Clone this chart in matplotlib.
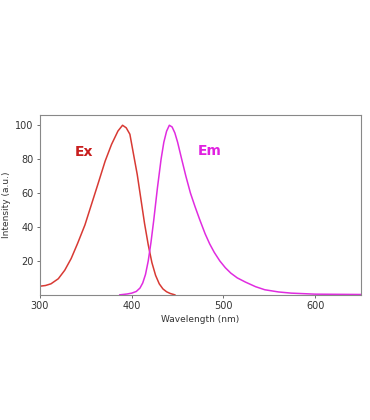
import matplotlib
matplotlib.use('Agg')
import matplotlib.pyplot as plt

# Excitation spectrum
ex_wl = [300, 306, 312, 320, 327, 334, 341, 349, 356, 363, 371, 378, 385, 390, 394, 398, 402, 406, 410, 414, 418, 422, 426, 430, 434, 438, 442, 447]
ex_int = [5.1, 5.5, 6.5, 9.5, 14.5, 21.4, 30.3, 41.2, 53.1, 65, 78.8, 88.7, 96.6, 100, 98.5, 94.7, 82.8, 71, 56.5, 42, 29.5, 19, 11.5, 6.5, 3.5, 1.8, 0.8, 0]

# Emission spectrum
em_wl = [387, 395, 400, 405, 409, 412, 415, 418, 421, 424, 428, 432, 435, 438, 441, 444, 447, 450, 454, 459, 464, 469, 474, 480, 485, 490, 496, 502, 508, 515, 524, 535, 545, 560, 574, 600, 625, 650]
em_int = [0, 0.5, 1, 2, 4, 7, 12, 20, 31, 44, 63, 80, 90, 96.5, 100, 99, 95.5, 90, 81, 70, 60, 52, 44.5, 36, 30, 25, 20, 16, 12.8, 10, 7.5, 4.8, 3, 1.7, 1, 0.4, 0.3, 0.2]

fig = plt.figure(figsize=(3.7, 4.2), dpi=100)
ax = fig.add_axes([0.108, 0.298, 0.868, 0.428])

ax.plot(ex_wl, ex_int, color='#d83a34', lw=1.1)
ax.plot(em_wl, em_int, color='#e02ce0', lw=1.1)

ax.text(348, 84.5, 'Ex', color='#c81e1e', fontsize=10, fontweight='bold', ha='center', va='center')
ax.text(485, 85, 'Em', color='#e020e0', fontsize=10, fontweight='bold', ha='center', va='center')

ax.set_xlim(300, 650)
ax.set_ylim(0, 106)
ax.set_xticks([300, 400, 500, 600])
ax.set_yticks([20, 40, 60, 80, 100])
ax.tick_params(labelsize=7, length=2.5, width=0.6, colors='#555555', labelcolor='#333333', pad=2)
for s in ax.spines.values():
    s.set_color('#888888')
    s.set_linewidth(0.8)

ax.set_xlabel('Wavelength (nm)', fontsize=6.5, color='#333333', labelpad=3)
ax.set_ylabel('Intensity (a.u.)', fontsize=6.5, color='#333333', labelpad=3)

fig.savefig('out.png', dpi=100)
